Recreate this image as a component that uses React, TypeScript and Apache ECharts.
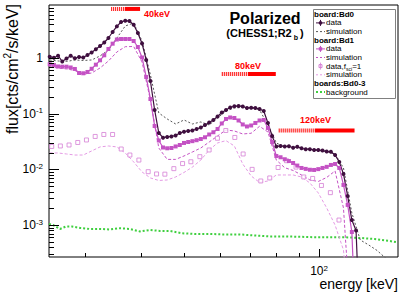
import React, { useEffect, useRef } from "react";
import * as echarts from "echarts";

// ---------- data ----------
const energy = [
  25.09, 25.64, 26.19, 26.76, 27.35, 27.94, 28.55, 29.17, 29.81, 30.46,
  31.12, 31.8, 32.49, 33.2, 33.92, 34.66, 35.42, 36.19, 36.98, 37.78,
  38.61, 39.45, 40.31, 41.18, 42.08, 43.0, 43.93, 44.89, 45.87, 46.87,
  47.89, 48.93, 50.0, 51.09, 52.2, 53.34, 54.5, 55.69, 56.9, 58.14,
  59.4, 60.7, 62.02, 63.37, 64.75, 66.16, 67.6, 69.07, 70.58, 72.12,
  73.69, 75.29, 76.93, 78.61, 80.32, 82.07, 83.86, 85.68, 87.55, 89.45,
  91.4, 93.39, 95.43, 97.51, 99.63, 101.8, 104.01, 106.28, 108.59, 110.96,
  113.37, 115.84, 118.36, 120.94, 123.57, 126.26, 129.01, 131.82, 134.69, 137.62,
  140.62, 143.68, 146.81,
];

// board Bd0 data (one value per energy bin)
const bd0Data = [
  1.055, 1.01, 1.1, 0.865, 0.98, 1.1, 0.99, 1.04, 1.02, 1.13,
  1.255, 1.439, 1.642, 1.898, 2.286, 2.93, 3.692, 4.43, 4.675, 4.617,
  3.962, 2.811, 1.821, 0.921, 0.3865, 0.1165, 0.045, 0.0371, 0.0382, 0.039,
  0.0406, 0.045, 0.0475, 0.0489, 0.0499, 0.0531, 0.0565, 0.0627, 0.0695, 0.0771,
  0.0891, 0.1051, 0.1165, 0.1292, 0.1358, 0.1375, 0.1347, 0.1266, 0.1281, 0.1266,
  0.1215, 0.1118, 0.0681, 0.0398, 0.0258, 0.0263, 0.0258, 0.026, 0.0245, 0.0254,
  0.0239, 0.023, 0.023, 0.0223, 0.0223, 0.0218, 0.0209, 0.0208, 0.0181, 0.0136,
  0.00827, 0.00333, 0.00123, 0.0008, 0.00001,
];

// board Bd0 simulation (every second energy bin)
const bd0Sim = [
  0.921, 0.883, 0.865, 0.921, 0.902, 0.921, 1.086, 1.392, 2.286, 3.754,
  4.25, 2.02, 0.495, 0.1029, 0.0803, 0.0653, 0.0771, 0.0653, 0.071, 0.0627,
  0.0837, 0.1118, 0.1266, 0.1292, 0.1266, 0.1165, 0.0627, 0.0298, 0.0253, 0.0253,
  0.0237, 0.0228, 0.0218, 0.021, 0.0189, 0.0106, 0.00165, 0.00054, 0.00044, 0.00035,
  0.000257, 0.000192,
];

// board Bd1 data
const bd1Data = [
  0.771, 0.749, 0.704, 0.698, 0.698, 0.675, 0.635, 0.538, 0.531, 0.561,
  0.64, 0.758, 0.909, 1.118, 1.45, 1.806, 2.148, 2.193, 2.193, 2.193,
  2.02, 1.576, 1.021, 0.456, 0.1836, 0.0601, 0.033, 0.0247, 0.0239, 0.0242,
  0.0258, 0.0274, 0.0298, 0.031, 0.0321, 0.0334, 0.0351, 0.0377, 0.0423, 0.0464,
  0.0531, 0.0667, 0.0803, 0.0855, 0.0837, 0.0755, 0.064, 0.0589, 0.0614, 0.0681,
  0.0755, 0.0771, 0.0554, 0.031, 0.0174, 0.0165, 0.0152, 0.0141, 0.013, 0.0117,
  0.0106, 0.0102, 0.00984, 0.00976, 0.0101, 0.0106, 0.0111, 0.012, 0.0125, 0.0106,
  0.00525, 0.0023, 0.00075, 0.00001,
];

// board Bd1 simulation (every second energy bin)
const bd1Sim = [
  0.698, 0.661, 0.635, 0.597, 0.506, 0.538, 0.661, 0.883, 1.281, 1.595,
  1.609, 0.848, 0.176, 0.0242, 0.0151, 0.0151, 0.0174, 0.0205, 0.0242, 0.031,
  0.0398, 0.051, 0.0489, 0.0432, 0.0445, 0.0594, 0.0469, 0.0147, 0.0107, 0.00956,
  0.00793, 0.00645, 0.00607, 0.00716, 0.00936, 0.00203, 0.00001,
];

// board Bd1, f_sci = 1 data (own binning)
const fsciEnergy = [
  25.35, 26.5, 27.71, 28.98, 30.3, 31.69, 33.13, 34.65, 36.22, 37.87,
  39.66, 41.6, 43.43, 45.32, 47.46, 49.63, 51.79, 54.24, 56.88, 59.36,
  61.97, 64.9, 67.73, 70.93, 74.16, 77.66, 81.05, 84.62, 88.88, 92.46,
  96.78, 101.25, 106.0, 110.8,
];
const fsciData = [
  0.0258, 0.0263, 0.0274, 0.0304, 0.0337, 0.039, 0.0423, 0.0423, 0.0232, 0.0181,
  0.0147, 0.00909, 0.00827, 0.0082, 0.0103, 0.0127, 0.0137, 0.0169, 0.0223, 0.0362,
  0.0499, 0.0374, 0.0189, 0.01, 0.00619, 0.00701, 0.0108, 0.0143, 0.011, 0.0073,
  0.00687, 0.00514, 0.00382, 0.00123,
];

// f_sci = 1 simulation (every second energy bin)
const fsciSim = [
  0.0197, 0.0197, 0.0189, 0.0181, 0.0181, 0.0214, 0.0253, 0.0263, 0.0253, 0.0197,
  0.0136, 0.00898, 0.00701, 0.00632, 0.00645, 0.0073, 0.0088, 0.011, 0.0147, 0.0223,
  0.0298, 0.0328, 0.0263, 0.0125, 0.00761, 0.00582, 0.00619, 0.00793, 0.00793, 0.00793,
  0.0073, 0.0057, 0.00377, 0.00203, 0.001, 0.000357, 0.00001,
];

// background, boards Bd0-3
const bkgEnergy = [
  25.0, 25.55, 26.45, 27.28, 28.13, 29.34, 30.85, 32.47, 34.18, 35.98,
  37.87, 39.87, 41.96, 44.17, 46.49, 49.45, 52.86, 57.09, 61.66, 66.59,
  71.93, 77.67, 83.87, 90.58, 97.81, 105.64, 114.07, 123.19, 133.05, 143.67,
  150.0,
];
const bkgData = [
  0.00105, 0.001, 0.000851, 0.000944, 0.000944, 0.000887, 0.000851, 0.000851, 0.000834, 0.000876,
  0.000851, 0.000768, 0.000817, 0.000784, 0.000784, 0.000713, 0.000692, 0.000692, 0.000678, 0.000678,
  0.000651, 0.000624, 0.000624, 0.000616, 0.000604, 0.000604, 0.000604, 0.000587, 0.000563, 0.000518,
  0.000487,
];

// energy markers: [striped start, solid start, end] keV, at flux level
const markerLabels = ["40keV", "80keV", "120keV"];
const markerRanges = [
  [34.4, 36.9, 39.9],
  [60.7, 69.4, 80.1],
  [81.3, 97.8, 120.0],
];
const markerLevels = [7.6, 0.516, 0.0499];

// axis ticks
const xRange = [25, 150];
const yRange = [0.000267, 8.94];
const xMajorTicks = [100];
const xMinorTicks = [30, 40, 50, 60, 70, 80, 90];
const yMajorTicks = [0.001, 0.01, 0.1, 1];
const yMinorTicks = [
  0.0003, 0.0004, 0.0005, 0.0006, 0.0007, 0.0008, 0.0009,
  0.002, 0.003, 0.004, 0.005, 0.006, 0.007, 0.008, 0.009,
  0.02, 0.03, 0.04, 0.05, 0.06, 0.07, 0.08, 0.09,
  0.2, 0.3, 0.4, 0.5, 0.6, 0.7, 0.8, 0.9,
  2, 3, 4, 5, 6, 7, 8,
];

// ---------- styling ----------
const FONT = "'Liberation Sans', Arial, Helvetica, sans-serif";
const C_BD0 = "#3f0f3f";
const C_BD0SIM = "#555555";
const C_BD1 = "#c452c4";
const C_FSCI = "#d680d6";
const C_FSCISIM = "#e49ae4";
const C_BKG = "#3fcf3f";
const C_RED = "#ff0000";

export default function App() {
  const ref = useRef<HTMLDivElement>(null);

  useEffect(() => {
    if (!ref.current) return;
    const chart = echarts.init(ref.current, undefined, { renderer: "svg" });

    const pairs = (xs: number[], ys: number[], step = 1) =>
      ys.map((v, i) => [xs[i * step], v]);

    type Tick = { axis: "x" | "y"; v: number; len: number };
    const ticks: Tick[] = [
      ...xMajorTicks.map((v) => ({ axis: "x" as const, v, len: 8 })),
      ...xMinorTicks.map((v) => ({ axis: "x" as const, v, len: 4 })),
      ...yMajorTicks.map((v) => ({ axis: "y" as const, v, len: 10 })),
      ...yMinorTicks.map((v) => ({ axis: "y" as const, v, len: 5 })),
    ];

    const lineSeries = (
      name: string,
      data: number[][],
      color: string,
      opts: any = {}
    ) => ({
      type: "line",
      name,
      data,
      clip: true,
      symbol: "none",
      lineStyle: { color, width: 1 },
      itemStyle: { color },
      z: 3,
      ...opts,
    });

    const markerSeries: any[] = [];
    markerRanges.forEach((r, i) => {
      markerSeries.push({
        type: "line",
        data: [
          [r[0], markerLevels[i]],
          [r[1], markerLevels[i]],
        ],
        symbol: "none",
        lineStyle: { color: C_RED, width: 4, type: [1, 1] },
        z: 2,
      });
      markerSeries.push({
        type: "line",
        data: [
          [r[1], markerLevels[i]],
          [r[2], markerLevels[i]],
        ],
        symbol: "none",
        lineStyle: { color: C_RED, width: 4 },
        z: 2,
      });
    });

    const supRich = {
      b: { fontSize: 12, fontFamily: FONT, color: "#000", lineHeight: 14 },
      s: {
        fontSize: 8,
        fontFamily: FONT,
        color: "#000",
        lineHeight: 14,
        verticalAlign: "top",
        padding: [0, 0, 7, 0],
      },
    };

    const legendRows = [14.3, 22.9, 31.6, 40.2, 48.9, 57.5, 66.1, 74.8, 83.4, 92];
    const LX = 314;
    const TX = 326;
    const legendFont = { fontFamily: FONT, fontSize: 8, fill: "#000" };
    const hdr = (t: string, y: number) => ({
      type: "text",
      x: LX,
      y,
      style: {
        text: t,
        ...legendFont,
        fontWeight: "bold",
        textVerticalAlign: "middle",
      },
    });
    const itm = (t: string, y: number, rich?: any) => ({
      type: "text",
      x: TX,
      y,
      style: {
        text: t,
        ...legendFont,
        textVerticalAlign: "middle",
        rich,
      },
    });
    const sample = (y: number, color: string, dash: any, width = 1) => ({
      type: "line",
      shape: { x1: 316, y1: y, x2: 325, y2: y },
      style: { stroke: color, lineWidth: width, lineDash: dash },
    });

    const graphics: any[] = [
      // y axis title
      {
        type: "text",
        x: 12,
        y: 4,
        rotation: Math.PI / 2,
        style: {
          text: "flux[cts/cm{s|2}/s/keV]",
          fontFamily: FONT,
          fontSize: 16,
          fill: "#000",
          textAlign: "right",
          textVerticalAlign: "middle",
          rich: {
            s: { fontSize: 10, fontFamily: FONT, verticalAlign: "top", padding: [0, 0, 9, 0] },
          },
        },
      },
      // x axis title
      {
        type: "text",
        x: 398,
        y: 284,
        style: {
          text: "energy [keV]",
          fontFamily: FONT,
          fontSize: 14,
          fill: "#000",
          textAlign: "right",
          textVerticalAlign: "middle",
        },
      },
      // title
      {
        type: "text",
        x: 265,
        y: 18,
        style: {
          text: "Polarized",
          fontFamily: FONT,
          fontSize: 16,
          fontWeight: "bold",
          fill: "#000",
          textAlign: "center",
          textVerticalAlign: "middle",
        },
      },
      {
        type: "text",
        x: 265,
        y: 33,
        style: {
          text: "(CHESS1;R2{sub|b})",
          fontFamily: FONT,
          fontSize: 11,
          fontWeight: "bold",
          fill: "#000",
          textAlign: "center",
          textVerticalAlign: "middle",
          rich: {
            sub: {
              fontFamily: FONT,
              fontSize: 7,
              fontWeight: "bold",
              verticalAlign: "bottom",
              padding: [8, 2, 0, 2],
            },
          },
        },
      },
      // red marker labels
      ...markerLabels.map((t, i) => ({
        type: "text",
        x: [144, 235, 300][i],
        y: [14, 66, 120][i],
        style: {
          text: t,
          fontFamily: FONT,
          fontSize: 9,
          fontWeight: "bold",
          fill: C_RED,
          textVerticalAlign: "middle",
        },
      })),
      // legend
      {
        type: "group",
        children: [
          {
            type: "rect",
            z: 10,
            shape: { x: 313.5, y: 9.5, width: 82, height: 89 },
            style: { fill: "#fff", stroke: "#808080", lineWidth: 1 },
          },
          ...[
            hdr("board:Bd0", legendRows[0]),
            sample(legendRows[1], C_BD0, null),
            { type: "circle", shape: { cx: 320.5, cy: legendRows[1], r: 1.8 }, style: { fill: C_BD0 } },
            { type: "line", shape: { x1: 320.5, y1: legendRows[1] - 3, x2: 320.5, y2: legendRows[1] + 3 }, style: { stroke: C_BD0, lineWidth: 1 } },
            itm("data", legendRows[1]),
            sample(legendRows[2], C_BD0SIM, [2, 2]),
            itm("simulation", legendRows[2]),
            hdr("board:Bd1", legendRows[3]),
            sample(legendRows[4], C_BD1, null),
            { type: "rect", shape: { x: 318.8, y: legendRows[4] - 1.7, width: 3.4, height: 3.4 }, style: { fill: C_BD1 } },
            { type: "line", shape: { x1: 320.5, y1: legendRows[4] - 3, x2: 320.5, y2: legendRows[4] + 3 }, style: { stroke: C_BD1, lineWidth: 1 } },
            itm("data", legendRows[4]),
            sample(legendRows[5], C_BD1, [2, 2]),
            itm("simulation", legendRows[5]),
            { type: "rect", shape: { x: 319, y: legendRows[6] - 1.5, width: 3, height: 3 }, style: { fill: "none", stroke: C_FSCI, lineWidth: 1 } },
            { type: "line", shape: { x1: 320.5, y1: legendRows[6] - 3.5, x2: 320.5, y2: legendRows[6] + 3.5 }, style: { stroke: C_FSCI, lineWidth: 0.8 } },
            itm("data,f{sub|sci}=1", legendRows[6], {
              sub: { fontFamily: FONT, fontSize: 5, verticalAlign: "bottom", padding: [5, 0, 0, 0] },
            }),
            sample(legendRows[7], C_FSCISIM, [2, 2]),
            itm("simulation", legendRows[7]),
            hdr("boards:Bd0-3", legendRows[8]),
            sample(legendRows[9], C_BKG, [2, 2], 2),
            itm("background", legendRows[9]),
          ].map((c: any) => ({ ...c, z: 11 })),
        ],
      },
    ];

    const option: any = {
      animation: false,
      backgroundColor: "#fff",
      grid: {
        left: 49,
        top: 5,
        width: 349,
        height: 252,
        show: true,
        borderColor: "#000",
        borderWidth: 1,
        backgroundColor: "transparent",
      },
      xAxis: {
        type: "log",
        logBase: 10,
        min: xRange[0],
        max: xRange[1],
        axisLine: { show: false },
        axisTick: { show: false },
        splitLine: { show: false },
        axisLabel: {
          margin: 7,
          showMinLabel: false,
          showMaxLabel: false,
          formatter: (v: number) => {
            const e = Math.log10(v);
            if (Math.abs(e - Math.round(e)) > 1e-6) return "";
            return "{b|10}{s|" + Math.round(e) + "}";
          },
          rich: supRich,
        },
      },
      yAxis: {
        type: "log",
        logBase: 10,
        min: yRange[0],
        max: yRange[1],
        axisLine: { show: false },
        axisTick: { show: false },
        splitLine: { show: false },
        axisLabel: {
          margin: 6,
          showMinLabel: false,
          showMaxLabel: false,
          formatter: (v: number) => {
            const e = Math.log10(v);
            if (Math.abs(e - Math.round(e)) > 1e-6) return "";
            const n = Math.round(e);
            if (n === 0) return "{b|1}";
            return "{b|10}{s|" + n + "}";
          },
          rich: supRich,
        },
      },
      series: [
        {
          type: "custom",
          silent: true,
          z: 5,
          data: ticks.map((t) => (t.axis === "x" ? [t.v, 1] : [30, t.v])),
          renderItem: (params: any, api: any) => {
            const t = ticks[params.dataIndex];
            const cs = params.coordSys;
            if (t.axis === "x") {
              const p = api.coord([t.v, 1]);
              const x = Math.round(p[0]) + 0.5;
              const yb = cs.y + cs.height;
              return {
                type: "line",
                shape: { x1: x, y1: yb, x2: x, y2: yb - t.len },
                style: { stroke: "#000", lineWidth: 1 },
              };
            }
            const p = api.coord([30, t.v]);
            const y = Math.round(p[1]) + 0.5;
            return {
              type: "line",
              shape: { x1: cs.x, y1: y, x2: cs.x + t.len, y2: y },
              style: { stroke: "#000", lineWidth: 1 },
            };
          },
        },
        ...markerSeries,
        lineSeries("bkg", pairs(bkgEnergy, bkgData), C_BKG, {
          lineStyle: { color: C_BKG, width: 2, type: [2, 2] },
        }),
        lineSeries("fsciSim", pairs(energy, fsciSim, 2), C_FSCISIM, {
          lineStyle: { color: C_FSCISIM, width: 1, type: [3, 2] },
        }),
        {
          type: "scatter",
          name: "fsci",
          data: pairs(fsciEnergy, fsciData),
          symbol: "rect",
          symbolSize: 4,
          clip: true,
          itemStyle: { color: "#fff", borderColor: C_FSCI, borderWidth: 1 },
          z: 3,
        },
        lineSeries("bd1Sim", pairs(energy, bd1Sim, 2), C_BD1, {
          lineStyle: { color: C_BD1, width: 1, type: [3, 2] },
        }),
        lineSeries("bd0Sim", pairs(energy, bd0Sim, 2), C_BD0SIM, {
          lineStyle: { color: C_BD0SIM, width: 1, type: [2, 2] },
        }),
        lineSeries("bd1", pairs(energy, bd1Data), C_BD1, {
          symbol: "rect",
          symbolSize: 4,
          showSymbol: true,
          lineStyle: { color: C_BD1, width: 1.2 },
          z: 4,
        }),
        lineSeries("bd0", pairs(energy, bd0Data), C_BD0, {
          symbol: "circle",
          symbolSize: 4,
          showSymbol: true,
          lineStyle: { color: C_BD0, width: 1.2 },
          z: 4,
        }),
      ],
      graphic: graphics,
    };

    chart.setOption(option);
    return () => chart.dispose();
  }, []);

  return (
    <div
      ref={ref}
      style={{ position: "fixed", left: 0, top: 0, width: 407, height: 294 }}
    />
  );
}
